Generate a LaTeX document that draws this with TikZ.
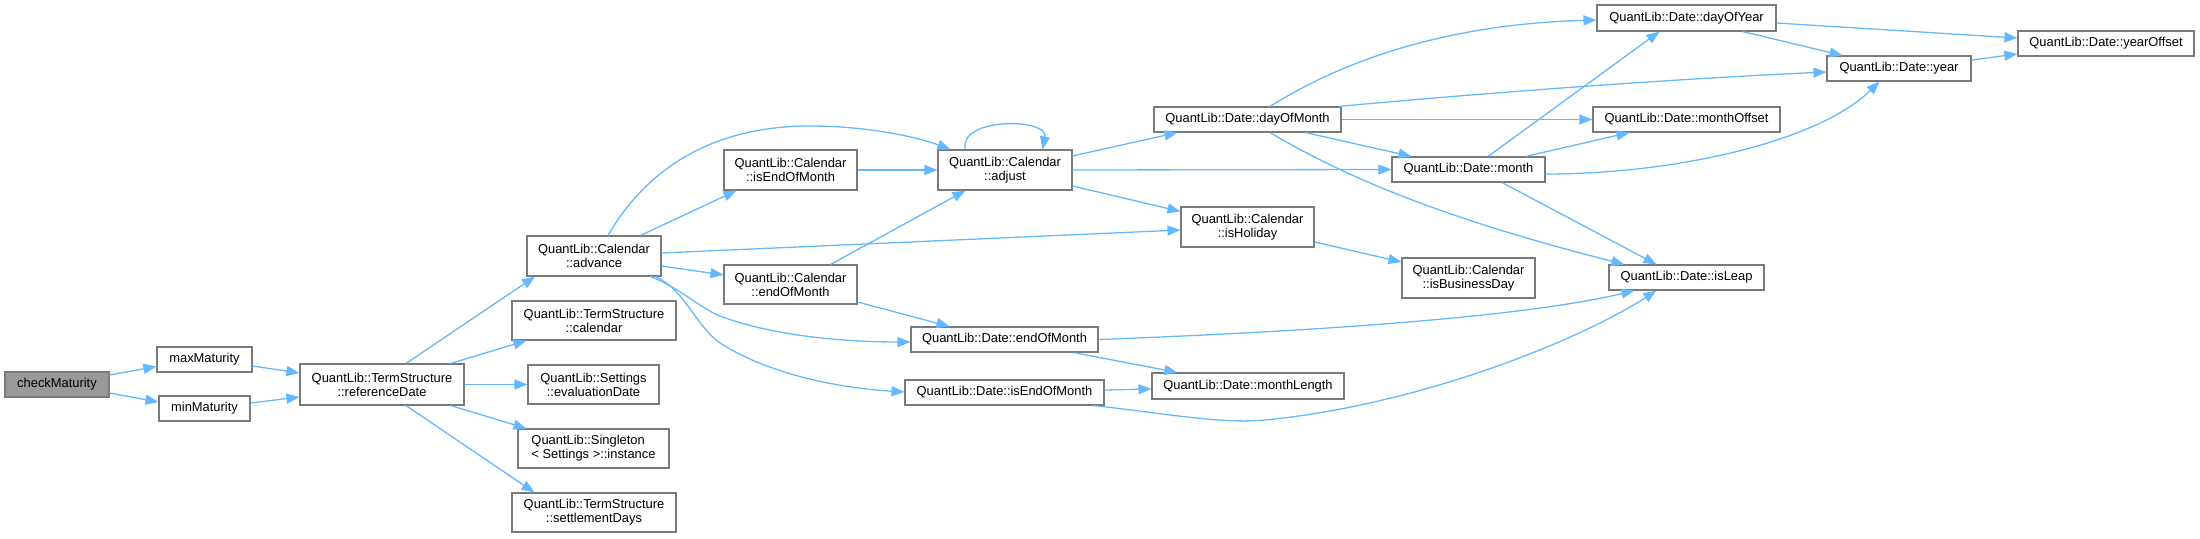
\documentclass[tikz,border=0pt]{standalone}
\usepackage{fontspec}
\setmainfont{Liberation Sans}
\usetikzlibrary{arrows.meta,calc}
\definecolor{edgeblue}{HTML}{63B8FF}
\definecolor{boxline}{HTML}{7A7A7A}
\definecolor{rootfill}{HTML}{999999}
\tikzset{
  fn/.style={draw=boxline, line width=1.1pt, fill=white, inner sep=2pt, align=center,
    font=\fontsize{12.9}{14.2}\selectfont, text=black},
  rootfn/.style={fn, fill=rootfill},
  edge/.style={draw=edgeblue, line width=1.3pt, -{Triangle[length=13pt,width=10pt]}},
}
\newcommand{\fnbox}[6]{\node[#1, minimum width=#4pt, minimum height=#5pt] (#2) at (#3) {#6};}
\begin{document}
\begin{tikzpicture}[x=1pt,y=-1pt]
\useasboundingbox (0,0) rectangle (2200,538);
% nodes
\fnbox{rootfn}{cm}{57,384.5}{104}{25}{checkMaturity}
\fnbox{fn}{max}{204.5,359.5}{95}{25}{maxMaturity}
\fnbox{fn}{min}{204.5,408.5}{91}{25}{minMaturity}
\fnbox{fn}{ref}{382,384.5}{164}{41}{QuantLib::TermStructure\\::referenceDate}
\fnbox{fn}{adv}{594,256}{134}{40}{QuantLib::Calendar\\::advance}
\fnbox{fn}{cal}{594,320.5}{164}{39}{QuantLib::TermStructure\\::calendar}
\fnbox{fn}{eval}{593.5,384.5}{131}{39}{QuantLib::Settings\\::evaluationDate}
\fnbox{fn, align=left}{inst}{593.5,448.5}{151}{39}{QuantLib::Singleton\\< Settings >::instance}
\fnbox{fn}{settle}{594,512.5}{164}{39}{QuantLib::TermStructure\\::settlementDays}
\fnbox{fn}{calIEOM}{790.5,170}{133}{40}{QuantLib::Calendar\\::isEndOfMonth}
\fnbox{fn}{calEOM}{790.5,284.5}{133}{39}{QuantLib::Calendar\\::endOfMonth}
\fnbox{fn}{adj}{1005,170}{134}{40}{QuantLib::Calendar\\::adjust}
\fnbox{fn}{dEOM}{1004.5,339.5}{187}{25}{QuantLib::Date::endOfMonth}
\fnbox{fn}{dIEOM}{1004.5,392.5}{199}{25}{QuantLib::Date::isEndOfMonth}
\fnbox{fn}{isHol}{1247.5,227}{133}{40}{QuantLib::Calendar\\::isHoliday}
\fnbox{fn}{dom}{1247.5,119.5}{187}{25}{QuantLib::Date::dayOfMonth}
\fnbox{fn}{mLen}{1248,386}{192}{26}{QuantLib::Date::monthLength}
\fnbox{fn}{month}{1468.5,169.5}{153}{25}{QuantLib::Date::month}
\fnbox{fn}{isBD}{1468.5,278}{133}{40}{QuantLib::Calendar\\::isBusinessDay}
\fnbox{fn}{doy}{1686.5,18}{179}{26}{QuantLib::Date::dayOfYear}
\fnbox{fn}{mOff}{1686.5,119.5}{187}{25}{QuantLib::Date::monthOffset}
\fnbox{fn}{isLeap}{1686.5,277.5}{155}{25}{QuantLib::Date::isLeap}
\fnbox{fn}{year}{1899,68.5}{144}{25}{QuantLib::Date::year}
\fnbox{fn}{yOff}{2106,43.5}{176}{25}{QuantLib::Date::yearOffset}
% edges
\draw[edge] ($(cm.east)+(0,-9.5)$) -- ($(max.west)+(0,7)$);
\draw[edge] ($(cm.east)+(0,8.5)$) -- ($(min.west)+(0,-6.5)$);
\draw[edge] ($(max.east)+(0,6.5)$) -- ($(ref.west)+(0,-11.5)$);
\draw[edge] ($(min.east)+(0,-5.5)$) -- ($(ref.west)+(0,12.5)$);
\draw[edge] ($(ref.north)+(24,0)$) -- ($(adv.south)+(-59,0)$);
\draw[edge] ($(ref.north east)+(-14,0)$) -- ($(cal.south west)+(15,0)$);
\draw[edge] (ref.east) -- (eval.west);
\draw[edge] ($(ref.south east)+(-14,0)$) -- ($(inst.north west)+(9,0)$);
\draw[edge] ($(ref.south)+(24,0)$) -- ($(settle.north west)+(23,0)$);
\draw[edge] ($(adv.north)+(14,0)$) .. controls (640,180) and (700,126) .. (810,126) .. controls (870,126) and (920,138) .. ($(adj.north west)+(13,0)$);
\draw[edge] ($(adv.north east)+(-21,0)$) -- ($(calIEOM.south west)+(13,0)$);
\draw[edge] ($(adv.east)+(0,-3)$) -- ($(isHol.west)+(0,3)$);
\draw[edge] ($(adv.east)+(0,10)$) -- ($(calEOM.west)+(0,-9.5)$);
\draw[edge] ($(adv.south east)+(-11,0)$) .. controls (680,288) and (700,308) .. (720,316) .. controls (770,335) and (840,342) .. ($(dEOM.west)+(0,2.5)$);
\draw[edge] ($(adv.south east)+(-6,0)$) .. controls (685,290) and (695,325) .. (720,343) .. controls (770,375) and (840,388) .. ($(dIEOM.west)+(0,-0.5)$);
\draw[edge] (calIEOM.east) -- (adj.west);
\draw[edge] ($(calEOM.north east)+(-27,0)$) -- ($(adj.south west)+(28,0)$);
\draw[edge] ($(calEOM.east)+(0,17.5)$) -- ($(dEOM.north west)+(39,0)$);
\draw[edge] ($(adj.north west)+(28,0)$) .. controls +(-8,-32) and +(6,-32) .. ($(adj.north east)+(-30,0)$);
\draw[edge] ($(adj.east)+(0,-14)$) -- ($(dom.south west)+(24,0)$);
\draw[edge] (adj.east) -- (month.west);
\draw[edge] ($(adj.east)+(0,16)$) -- ($(isHol.north west)+(0,5)$);
\draw[edge] ($(dom.north)+(22.5,0)$) .. controls (1320,75) and (1420,25) .. ($(doy.west)+(0,2)$);
\draw[edge] ($(dom.north east)+(-3,0)$) .. controls (1450,96) and (1650,80) .. ($(year.west)+(0,3.5)$);
\draw[edge] (dom.east) -- (mOff.west);
\draw[edge] ($(dom.south east)+(-36,0)$) -- ($(month.north west)+(20,0)$);
\draw[edge] ($(dom.south)+(22.5,0)$) .. controls (1350,180) and (1450,220) .. ($(isLeap.north west)+(16,0)$);
\draw[edge] ($(month.north)+(19.5,0)$) -- ($(doy.south west)+(63,0)$);
\draw[edge] ($(month.north east)+(-20,0)$) -- ($(mOff.south west)+(37,0)$);
\draw[edge] ($(month.east)+(0,4.5)$) .. controls (1680,174) and (1820,140) .. ($(year.south west)+(53,0)$);
\draw[edge] ($(month.south)+(33.5,0)$) -- ($(isLeap.north west)+(48,0)$);
\draw[edge] ($(doy.east)+(0,5)$) -- ($(yOff.west)+(0,-5.5)$);
\draw[edge] ($(doy.south east)+(-34,0)$) -- ($(year.north west)+(16,0)$);
\draw[edge] ($(year.east)+(0,-8.5)$) -- ($(yOff.west)+(0,10.5)$);
\draw[edge] ($(isHol.east)+(0,15)$) -- ($(isBD.west)+(0,-16)$);
\draw[edge] (dEOM.east) .. controls (1300,332) and (1520,318) .. ($(isLeap.south west)+(26,0)$);
\draw[edge] ($(dEOM.south east)+(-25,0)$) -- ($(mLen.north west)+(26,0)$);
\draw[edge] ($(dIEOM.east)+(0,-2.5)$) -- ($(mLen.west)+(0,3)$);
\draw[edge] ($(dIEOM.south east)+(-11,0)$) .. controls (1170,414) and (1220,424) .. (1265,420) .. controls (1420,405) and (1580,340) .. ($(isLeap.south west)+(48,0)$);
\end{tikzpicture}
\end{document}
